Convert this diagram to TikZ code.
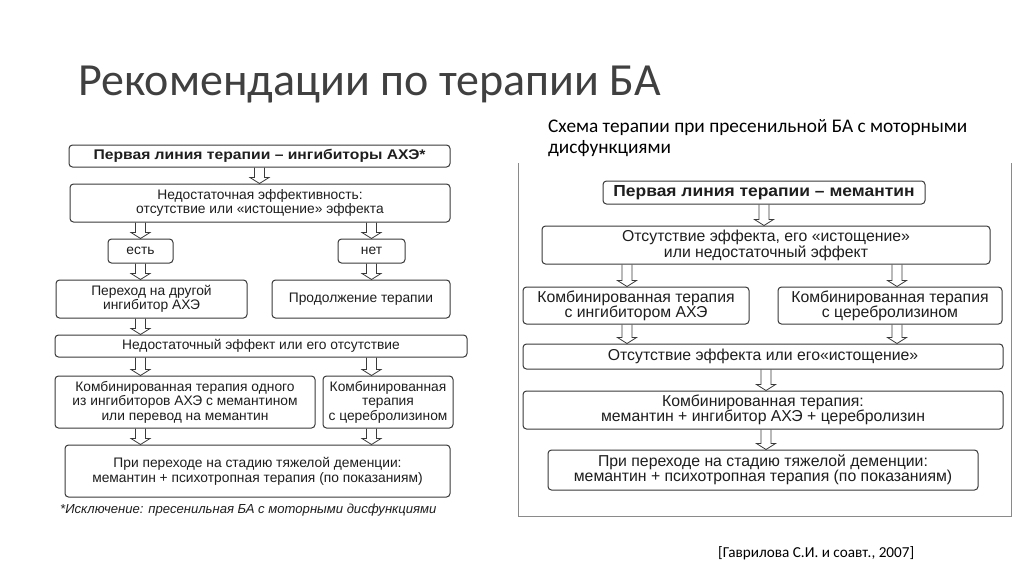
\documentclass[tikz,border=0pt]{standalone}
\usepackage{fontspec}
\setmainfont{Liberation Sans}
\newfontfamily\calibri{Carlito}
\usetikzlibrary{calc}
\definecolor{boxline}{HTML}{3A3A3A}
\definecolor{txt}{HTML}{1E1E1E}
\definecolor{titlegray}{HTML}{404040}
\definecolor{framegray}{HTML}{8A8A8A}
\newcommand{\widebf}[2]{\scalebox{#1}[1]{\bfseries #2}}
\begin{document}
\begin{tikzpicture}[x=1pt,y=-1pt,
  box/.style={draw=boxline, line width=1pt, rounded corners=3.5pt, align=center, text=txt, inner sep=0pt},
  sz/.style 2 args={minimum width=#1pt, minimum height=#2pt},
  lfont/.style={font=\fontsize{13.8}{14.6}\selectfont},
  rfont/.style={font=\fontsize{15.8}{15}\selectfont},
  blockarrow/.style={draw=boxline, line width=0.8pt, line join=miter,
    to path={let \p1=(\tikztostart), \p2=(\tikztotarget) in
      (\x1-5pt,\y1) -- (\x1-5pt,\y2+6pt) -- (\x1-9.5pt,\y2+6pt) -- (\x1,\y2)
      -- (\x1+9.5pt,\y2+6pt) -- (\x1+5pt,\y2+6pt) -- (\x1+5pt,\y1)}}]
\useasboundingbox (0,0) rectangle (1024,574);
\fill[white] (0,0) rectangle (1024,574);

% title and captions
\node[anchor=base west, inner sep=0pt, text=titlegray, font=\calibri\fontsize{46}{46}\selectfont] (title) at (78,95) {Рекомендации по терапии БА};
\node[anchor=base west, inner sep=0pt, align=left, text=black, font=\calibri\fontsize{19.3}{21}\selectfont] (cap) at (548,153) {Схема терапии при пресенильной БА с моторными\\дисфункциями};
\node[anchor=base west, inner sep=0pt, text=black, font=\calibri\fontsize{15.2}{15}\selectfont] (cite) at (718,557) {[Гаврилова С.И. и соавт., 2007]};

% ---------- left scheme ----------
\node[box,lfont,sz={381}{22}] (b1) at (259.5,156) {\fontsize{14}{14}\selectfont\widebf{1.12}{Первая линия терапии – ингибиторы АХЭ*}};
\node[box,lfont,sz={380}{38}] (b2) at (260,203) {Недостаточная эффективность:\\отсутствие или «истощение» эффекта};
\node[box,lfont,sz={65}{24}] (est) at (140.5,251) {есть};
\node[box,lfont,sz={67}{24}] (net) at (371.5,251) {нет};
\node[box,lfont,sz={191}{38}] (per) at (151.5,299) {Переход на другой\\ингибитор АХЭ};
\node[box,lfont,sz={178}{38}] (prod) at (361,299) {Продолжение терапии};
\node[box,lfont,sz={412}{22}] (ned) at (261,346) {Недостаточный эффект или его отсутствие};
\node[box,lfont,sz={260}{52}] (k1) at (185,402) {Комбинированная терапия одного\\из ингибиторов АХЭ с мемантином\\или перевод на мемантин};
\node[box,lfont,sz={130}{52}] (k2) at (388,402) {Комбинированная\\терапия\\с церебролизином};
\node[box,lfont,sz={385}{52}] (fin) at (257.5,471) {При переходе на стадию тяжелой деменции:\\мемантин + психотропная терапия (по показаниям)};
\node[anchor=base west, inner sep=0pt, text=txt, font=\fontsize{13.1}{13}\selectfont\itshape] (foot) at (60,513) {*Исключение: пресенильная БА с моторными дисфункциями};

\draw[blockarrow] (b1.south) to (b2.north);
\draw[blockarrow] (b2.south -| est.north) to (est.north);
\draw[blockarrow] (b2.south -| net.north) to (net.north);
\draw[blockarrow] (est.south) to (per.north -| est.south);
\draw[blockarrow] (net.south) to (prod.north -| net.south);
\draw[blockarrow] (per.south -| est.south) to (ned.north -| est.south);
\draw[blockarrow] (ned.south -| est.south) to (k1.north -| est.south);
\draw[blockarrow] (ned.south -| net.south) to (k2.north -| net.south);
\draw[blockarrow] (k1.south -| est.south) to (fin.north -| est.south);
\draw[blockarrow] (k2.south -| net.south) to (fin.north -| net.south);

% ---------- right scheme ----------
\draw[framegray, line width=0.8pt] (518,163) -- (518,516) -- (1011,516) -- (1011,163);
\coordinate (rl) at (627,0);
\coordinate (rr) at (897,0);
\coordinate (rm) at (766,0);
\node[box,rfont,sz={322}{23}] (r1) at (764,192.5) {\fontsize{16}{16}\selectfont\widebf{1.09}{Первая линия терапии – мемантин}};
\node[box,rfont,sz={448}{38}] (r2) at (766,245) {Отсутствие эффекта, его «истощение»\\или недостаточный эффект};
\node[box,rfont,sz={226}{37}] (r3a) at (636,305.5) {Комбинированная терапия\\с ингибитором АХЭ};
\node[box,rfont,sz={224}{37}] (r3b) at (890,305.5) {Комбинированная терапия\\с церебролизином};
\node[box,rfont,sz={480}{25}] (r4) at (763,356.5) {Отсутствие эффекта или его«истощение»};
\node[box,rfont,sz={480}{38}] (r5) at (763,410) {Комбинированная терапия:\\мемантин + ингибитор АХЭ + церебролизин};
\node[box,rfont,sz={430}{40}] (r6) at (763,470) {При переходе на стадию тяжелой деменции:\\мемантин + психотропная терапия (по показаниям)};

\draw[blockarrow] (r1.south) to (r2.north -| r1.south);
\draw[blockarrow] (r2.south -| rl) to (r3a.north -| rl);
\draw[blockarrow] (r2.south -| rr) to (r3b.north -| rr);
\draw[blockarrow] (r3a.south -| rl) to (r4.north -| rl);
\draw[blockarrow] (r3b.south -| rr) to (r4.north -| rr);
\draw[blockarrow] (r4.south -| rm) to (r5.north -| rm);
\draw[blockarrow] (r5.south -| rm) to (r6.north -| rm);
\end{tikzpicture}
\end{document}
